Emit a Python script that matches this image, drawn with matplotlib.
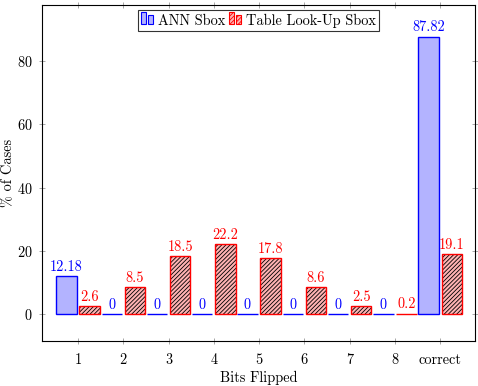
import numpy as np
import matplotlib.pyplot as plt
from matplotlib.patches import Patch, Rectangle
from matplotlib.legend_handler import HandlerBase

plt.rcParams['font.family'] = ['cmr10', 'DejaVu Serif']
plt.rcParams['axes.formatter.use_mathtext'] = True
plt.rcParams['mathtext.fontset'] = 'cm'
plt.rcParams['hatch.linewidth'] = 0.6

# data
categories = ['1', '2', '3', '4', '5', '6', '7', '8', 'correct']
ann_sbox = [12.18, 0, 0, 0, 0, 0, 0, 0, 87.82]
table_sbox = [2.6, 8.5, 18.5, 22.2, 17.8, 8.6, 2.5, 0.2, 19.1]
ann_labels = ['12.18', '0', '0', '0', '0', '0', '0', '0', '87.82']
table_labels = ['2.6', '8.5', '18.5', '22.2', '17.8', '8.6', '2.5', '0.2', '19.1']

x = np.arange(1, len(categories) + 1)
w = 0.45
off = 0.255
fs = 10.3


class TwoBars(HandlerBase):
    # pgfplots style legend: two little bars side by side
    def create_artists(self, legend, orig, xd, yd, width, height, fontsize, trans):
        bw = width * 0.38
        out = []
        for i, hgt in enumerate([1.0, 0.75]):
            r = Rectangle((xd + i * width * 0.55, yd), bw, height * hgt,
                          facecolor=orig.get_facecolor(), edgecolor=orig.get_edgecolor(),
                          hatch=orig.get_hatch(), linewidth=0.8, transform=trans)
            out.append(r)
        return out


fig = plt.figure(figsize=(4.78, 3.86), dpi=100)
ax = fig.add_axes([42/478, 1 - 341/386, 433/478, 336/386])

ax.bar(x - off, ann_sbox, w, color='#b3b3ff', edgecolor='blue', linewidth=1.0)
# hatched bars: fill + black hatch, then red outline on top
ax.bar(x + off, table_sbox, w, color='#ffb3b3', edgecolor='black', hatch='////////', linewidth=0)
ax.bar(x + off, table_sbox, w, fill=False, edgecolor='red', linewidth=1.0)

for xi, v, s in zip(x, ann_sbox, ann_labels):
    ax.annotate(s, (xi - off, v), xytext=(0, 1.5), textcoords='offset points',
                ha='center', va='bottom', color='blue', fontsize=fs)
for xi, v, s in zip(x, table_sbox, table_labels):
    ax.annotate(s, (xi + off, v), xytext=(0, 1.5), textcoords='offset points',
                ha='center', va='bottom', color='red', fontsize=fs)

ax.set_xlim(0.205, 9.77)
ax.set_ylim(-8.5, 97.8)
ax.set_xticks(x)
ax.set_xticklabels(categories)
ax.set_yticks([0, 20, 40, 60, 80])
ax.tick_params(direction='inout', length=5, color='#999999', width=0.6,
               top=True, right=True, labelsize=fs)
ax.tick_params(axis='x', pad=6)
ax.tick_params(axis='y', pad=4)
for sp in ax.spines.values():
    sp.set_linewidth(0.8)

ax.set_xlabel('Bits Flipped', fontsize=fs, labelpad=3)
fig.text(8/478, 1 - 173/386, '% of Cases', rotation=90, ha='center', va='center',
         fontsize=fs)

handles = [Patch(facecolor='#b3b3ff', edgecolor='blue'),
           Patch(facecolor='#ffb3b3', edgecolor='red', hatch='////////')]
leg = ax.legend(handles, ['ANN Sbox', 'Table Look-Up Sbox'], loc='upper center',
                ncol=2, fontsize=fs, frameon=True, fancybox=False, edgecolor='black',
                handler_map={Patch: TwoBars()},
                handlelength=0.9, handleheight=0.9, handletextpad=0.25,
                columnspacing=0.3, borderpad=0.25, borderaxespad=0.35,
                bbox_to_anchor=(0.5, 1.0))
leg.get_frame().set_linewidth(0.8)

fig.savefig('out.png', dpi=100)
